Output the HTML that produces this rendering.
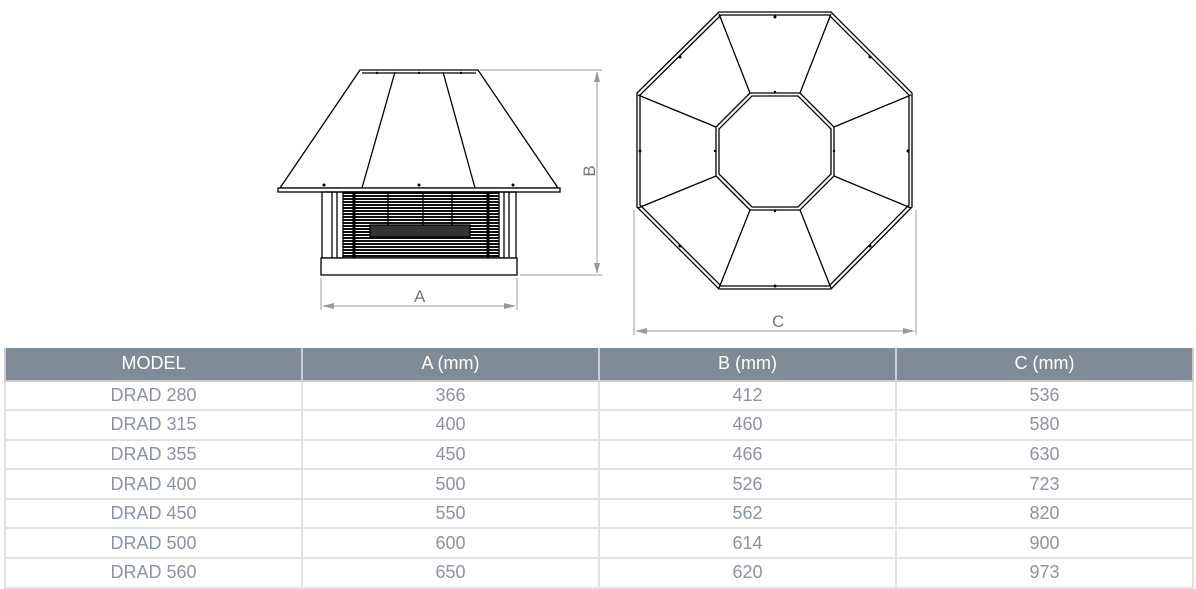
<!DOCTYPE html>
<html><head><meta charset="utf-8"><style>
body{margin:0;width:1196px;height:589px;background:#fff;position:relative;overflow:hidden;font-family:"Liberation Sans",sans-serif}
svg{position:absolute;left:0;top:0}
table{position:absolute;left:4px;top:348px;border-collapse:collapse;width:1190px;table-layout:fixed}
td{border:2px solid #e2e2e2;text-align:center;color:#8a95a0;font-size:18px;height:27.6px;padding:0;line-height:27px}
tr.h td{background:#7f8c98;color:#fff;height:31.5px;border-color:#c9ced3;border-top:none}
</style></head><body>
<svg width="1196" height="345" viewBox="0 0 1196 345">
<defs><pattern id="g" width="4" height="3" patternUnits="userSpaceOnUse"><rect width="4" height="2" fill="#111"/></pattern></defs>
<g stroke="#000" fill="none" stroke-width="1.3">
<polygon points="360,70 478,70 558,188 280,188" fill="#fff"/>
<line x1="362" y1="73" x2="476" y2="73"/>
<rect x="278" y="188" width="282" height="4" fill="#fff"/>
<line x1="395" y1="72" x2="362" y2="188"/>
<line x1="443" y1="72" x2="475" y2="188"/>
<rect x="322" y="192" width="194" height="66"/>
<rect x="343" y="192" width="156" height="66" fill="url(#g)"/>
<line x1="332" y1="192" x2="332" y2="258"/><line x1="337" y1="192" x2="337" y2="258"/>
<line x1="504" y1="192" x2="504" y2="258"/><line x1="509" y1="192" x2="509" y2="258"/>
<line x1="354" y1="192" x2="354" y2="258" stroke-width="3"/><line x1="488" y1="192" x2="488" y2="258" stroke-width="3"/>
<line x1="388" y1="192" x2="388" y2="225"/><line x1="423" y1="192" x2="423" y2="225"/><line x1="452" y1="192" x2="452" y2="225"/>
<rect x="370" y="225" width="100" height="12" fill="#333"/>
<rect x="321" y="258" width="196" height="17" fill="#fff"/>
</g>
<g fill="#000"><circle cx="324" cy="185" r="1.5"/><circle cx="419" cy="185" r="1.5"/><circle cx="513" cy="185" r="1.5"/><circle cx="377" cy="73" r="1.2"/><circle cx="419" cy="73" r="1.2"/><circle cx="461" cy="73" r="1.2"/></g>
<g stroke="#999" stroke-width="1" fill="none">
<line x1="480" y1="70" x2="602" y2="70"/><line x1="520" y1="275" x2="602" y2="275"/>
<line x1="597" y1="72" x2="597" y2="273"/>
<line x1="321" y1="278" x2="321" y2="310"/><line x1="517" y1="278" x2="517" y2="310"/>
<line x1="323" y1="306" x2="515" y2="306"/>
<line x1="634" y1="210" x2="634" y2="335"/><line x1="916" y1="210" x2="916" y2="335"/>
<line x1="636" y1="331" x2="914" y2="331"/>
</g>
<g fill="#999">
<polygon points="597,71 594,82 600,82"/><polygon points="597,274 594,263 600,263"/>
<polygon points="322,306 334,303 334,309"/><polygon points="516,306 504,303 504,309"/>
<polygon points="635,331 647,328 647,334"/><polygon points="915,331 903,328 903,334"/>
</g>
<g fill="#777" font-size="17" font-family="Liberation Sans,sans-serif">
<text x="414" y="302">A</text>
<text x="772" y="327">C</text>
<text transform="translate(595,171) rotate(-90)" text-anchor="middle">B</text>
</g>
<g stroke="#000" stroke-width="1.3" fill="none">
<polygon points="719,12 831,12 912,93 912,207 831,289 719,289 637,207 637,93"/>
<polygon points="721,15 829,15 909,95 909,205 829,286 721,286 640,205 640,95"/>
<polygon points="750,93 800,93 834,127 834,176 800,210 750,210 716,176 716,127"/>
<polygon points="752,96 798,96 831,129 831,174 798,207 752,207 719,174 719,129"/>
<line x1="750" y1="93" x2="719" y2="14"/><line x1="800" y1="93" x2="831" y2="14"/>
<line x1="834" y1="127" x2="911" y2="95"/><line x1="834" y1="176" x2="911" y2="208"/>
<line x1="800" y1="210" x2="831" y2="288"/><line x1="750" y1="210" x2="719" y2="288"/>
<line x1="716" y1="176" x2="638" y2="208"/><line x1="716" y1="127" x2="638" y2="95"/>
</g>
<g fill="#000"><circle cx="775" cy="17" r="1.5"/><circle cx="775" cy="286" r="1.5"/><circle cx="640" cy="151" r="1.5"/><circle cx="908" cy="151" r="1.5"/>
<circle cx="680" cy="57" r="1.5"/><circle cx="870" cy="57" r="1.5"/><circle cx="680" cy="246" r="1.5"/><circle cx="870" cy="246" r="1.5"/>
<circle cx="775" cy="92" r="1.2"/><circle cx="775" cy="211" r="1.2"/><circle cx="715" cy="151" r="1.2"/><circle cx="834" cy="151" r="1.2"/></g>
</svg>
<table>
<tr class="h"><td>MODEL</td><td>A (mm)</td><td>B (mm)</td><td>C (mm)</td></tr>
<tr><td>DRAD 280</td><td>366</td><td>412</td><td>536</td></tr>
<tr><td>DRAD 315</td><td>400</td><td>460</td><td>580</td></tr>
<tr><td>DRAD 355</td><td>450</td><td>466</td><td>630</td></tr>
<tr><td>DRAD 400</td><td>500</td><td>526</td><td>723</td></tr>
<tr><td>DRAD 450</td><td>550</td><td>562</td><td>820</td></tr>
<tr><td>DRAD 500</td><td>600</td><td>614</td><td>900</td></tr>
<tr><td>DRAD 560</td><td>650</td><td>620</td><td>973</td></tr>
</table>
</body></html>
